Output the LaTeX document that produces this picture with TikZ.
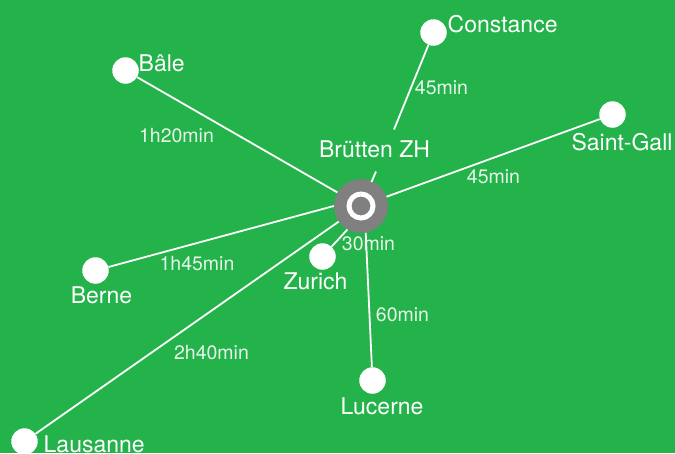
\documentclass[tikz,border=0pt]{standalone}
\usepackage{fontspec}
\setmainfont{TeX Gyre Heros}
\definecolor{bg}{HTML}{24B24B}
\definecolor{hub}{HTML}{808080}
\tikzset{
  city/.style={circle,fill=white,minimum size=26.5pt,inner sep=0pt},
  lab/.style={text=white,font=\fontsize{23}{26}\selectfont,inner sep=0pt},
  tim/.style={text=white!88!bg,font=\fontsize{19.5}{22}\selectfont,inner sep=0pt},
  link/.style={draw=white,line width=1.8pt}
}
\begin{document}
\begin{tikzpicture}[x=1pt,y=-1pt,scale=1]
\useasboundingbox[fill=bg] (0,0) rectangle (675,453);
\node[circle,fill=hub,minimum size=54pt,inner sep=0pt] (hub) at (361,206) {};
\node[city] (bale) at (125.5,70.5) {};
\node[city] (const) at (433.5,32.5) {};
\node[city] (sg) at (612.5,114.5) {};
\node[city] (berne) at (95.5,270.5) {};
\node[city] (zur) at (322.5,256.5) {};
\node[city] (luc) at (372.5,380.5) {};
\node[city] (lau) at (24.5,441.5) {};
\coordinate (c1) at (394,129.5);
\coordinate (c2) at (376,171.5);
\coordinate (c3) at (371.5,182);
\draw[link] (const) -- (c1);
\draw[link] (c2) -- (c3);
\draw[link] (bale) -- (hub);
\draw[link] (sg) -- (hub);
\draw[link] (berne) -- (hub.180);
\draw[link] (zur) -- (hub.-120);
\draw[link] (luc) -- (hub.-80);
\draw[link] (lau) -- (hub);
\node[circle,draw=white,line width=5pt,fill=hub,minimum size=24pt,inner sep=0pt,outer sep=0pt] (inner) at (361,206) {};
\node[lab,anchor=west] (t1) at (138.5,63.5) {Bâle};
\node[lab,anchor=west] (t2) at (447.5,24.5) {Constance};
\node[lab] (t3) at (622,142.5) {Saint-Gall};
\node[lab] (t4) at (374.5,149.5) {Brütten ZH};
\node[lab] (t5) at (101.5,295.5) {Berne};
\node[lab] (t6) at (315.5,281.5) {Zurich};
\node[lab] (t7) at (382,406.5) {Lucerne};
\node[lab,anchor=west] (t8) at (43.5,444.5) {Lausanne};
\node[tim] (d1) at (176.5,135.5) {1h20min};
\node[tim] (d2) at (441.5,87.5) {45min};
\node[tim] (d3) at (493.5,176.5) {45min};
\node[tim] (d4) at (197,263.5) {1h45min};
\node[tim] (d5) at (368.5,243.5) {30min};
\node[tim] (d6) at (402.5,314.5) {60min};
\node[tim] (d7) at (211.5,352.5) {2h40min};
\end{tikzpicture}
\end{document}
